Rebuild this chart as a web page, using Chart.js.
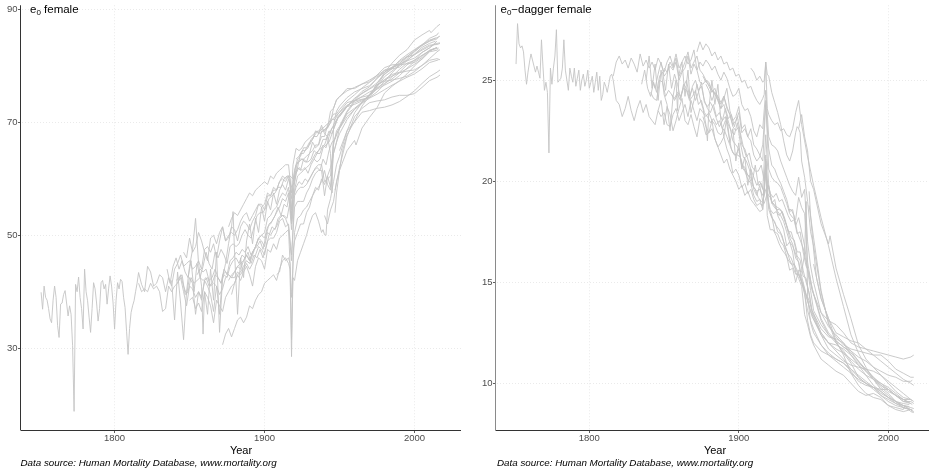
<!DOCTYPE html>
<html>
<head>
<meta charset="utf-8">
<script src="https://cdn.jsdelivr.net/npm/chart.js@4.4.1/dist/chart.umd.min.js"></script>
<style>
  html, body { margin: 0; padding: 0; background: #fff; overflow: hidden; width: 929px; height: 474px; }
  body { position: relative; font-family: "Liberation Sans", Arial, sans-serif; }
  canvas { position: absolute; top: 0; }
  .t { position: absolute; white-space: nowrap; line-height: 1; color: #000; }
  .ttl { font-size: 11.5px; top: 4px; }
  .ttl sub { font-size: 8px; vertical-align: -2px; line-height: 0; }
  .xt { font-size: 11px; top: 444.7px; transform: translateX(-50%); }
  .cap { font-size: 9.8px; font-style: italic; top: 458.2px; }
  #warn { position:absolute; left:300px; top:200px; color:red; font-size:14px; }
</style>
</head>
<body>
<canvas id="c1" width="465" height="474" style="left:0px"></canvas>
<canvas id="c2" width="470" height="474" style="left:465px"></canvas>
<div class="t ttl" style="left:30px">e<sub>0</sub> female</div>
<div class="t ttl" style="left:500.5px">e<sub>0</sub>−dagger female</div>
<div class="t xt" style="left:241px">Year</div>
<div class="t xt" style="left:715px">Year</div>
<div class="t cap" style="left:20.5px">Data source: Human Mortality Database, www.mortality.org</div>
<div class="t cap" style="left:497px">Data source: Human Mortality Database, www.mortality.org</div>
<div id="warn"></div>
<script>
// year grids (x positions) built from segments [start, end, step]
function yrs(...segs){ const o=[]; for(const [a,b,s] of segs){ for(let y=a;y<=b;y+=s) o.push(y); } return o; }

// tick labels
const xTicks = [1800, 1900, 2000];
const e0Ticks = [30, 50, 70, 90];
const edTicks = [10, 15, 20, 25];

// ---------- Sweden ----------
const SWE_year = yrs([1751,1815,1],[1816,1900,2],[1902,1916,2],[1917,1919,1],[1920,1950,2],[1955,2015,5],[2017,2017,1]);
const SWE_e0 = [39.9,36.9,41.0,39.0,38.5,37.0,35.2,34.5,38.5,41.0, 39.0,34.0,31.9,37.8,38.0,39.5,40.2,38.0,35.7,37.5,
 36.0,30.5,18.8,41.3,40.0,42.6,39.0,37.0,33.4,44.0, 40.0,38.4,35.5,32.8,37.0,41.6,40.5,38.0,34.8,37.0,
 41.6,42.0,40.5,41.3,37.8,40.5,42.8,41.0,38.0,33.4, 38.5,41.6,40.5,42.2,41.8,39.0,37.2,33.0,28.9,33.5,
 36.3,37.5,38.4,40.0,41.5,
 43.4,41.3,40.0,44.5,43.5,41.0,41.5,43.0,42.5,40.0, 42.5,41.0,44.0,45.0,46.5,44.5,45.0,45.5,44.0,44.5,
 45.5,44.0,47.5,48.0,47.0,48.5,46.0,49.0,51.5,49.0, 50.0,50.5,50.0,51.0,52.5,53.5,54.0,52.5,53.5,54.5,
 55.5,55.5,54.5,
 57.0,57.0,58.0,58.0,59.5,60.0,59.5,60.5, 60.0,54.5,59.5,
 60.5,63.0,63.5,63.5,63.0,64.5,65.0,66.0,66.0,67.5,67.5,69.5,70.5,71.5,71.5,72.3,
 73.8,74.9,76.1,77.1,78.1,78.9,79.7,80.4,81.6,82.0,82.8,83.5,84.0, 84.1];
const SWE_ed = [25.8,27.8,26.8,26.6,26.7,26.4,25.5,24.8,25.4,25.9, 26.3,26.0,25.7,25.4,25.7,25.4,25.1,27.0,25.7,24.5,
 24.9,24.4,21.4,25.6,24.8,25.6,26.2,27.5,24.9,25.0, 25.1,25.6,27.0,25.5,25.0,24.5,25.6,25.2,24.9,25.6,
 24.7,25.1,25.5,24.5,25.0,25.3,24.7,25.0,25.5,24.6, 24.9,25.2,24.4,24.9,25.4,24.5,25.2,24.0,24.3,24.9,
 24.7,24.4,24.8,25.2,25.3,
 25.0,24.0,23.8,23.2,23.6,24.2,23.5,23.0,23.6,24.0, 23.4,23.8,23.2,23.0,22.8,23.5,23.2,23.4,22.8,22.7,
 23.3,23.6,23.0,23.4,23.8,23.2,24.0,23.5,23.0,23.6, 23.4,23.2,23.4,23.0,22.8,22.4,22.3,22.6,22.2,21.8,
 21.4,21.3,21.6,
 20.8,20.7,20.3,20.2,19.7,19.5,19.6,19.3, 19.5,21.3,19.8,
 19.6,19.0,18.8,18.7,18.6,18.2,17.8,17.2,16.9,16.2,16.0,15.0,14.4,13.6,13.1,12.7,
 11.9,11.4,11.2,11.0,10.7,10.4,10.1,9.8,9.5,9.3,9.0,8.9,8.8, 8.75];

// ---------- France ----------
const FRA_year = yrs([1816,1916,2],[1918,1918,1],[1920,1950,2],[1955,2015,5],[2017,2017,1]);
const FRA_e0 = [41.5,40.0,40.5,40.0,41.5,40.5,41.0,40.0,36.5,37.0, 41.0,40.0,41.0,41.5,43.0,41.0,39.5,42.5,41.5,36.0,
 40.0,39.0,42.0,42.5,41.0,41.5,41.0,36.0,43.0,43.5, 43.0,42.5,42.5,43.5,43.0,44.0,45.0,44.0,45.0,46.5,
 48.0,47.5,46.5,49.0,49.5,49.5,50.5,52.5,53.0,51.5, 52.0,
 46.5,
 55.0,56.0,56.0,56.0,57.5,58.5,60.0,61.0,61.5,61.5,57.0,60.5,58.5,66.0,68.5,69.3,
 72.0,73.8,75.2,76.0,77.0,78.5,79.5,81.0,82.0,82.9,83.8,84.6,85.0, 85.3];
const FRA_ed = [25.2,25.9,26.2,25.8,26.0,25.6,26.1,25.8,25.4,26.3, 25.7,26.0,25.6,25.9,25.5,26.1,25.8,25.4,25.9,26.2,
 25.7,26.3,25.6,25.9,26.2,25.8,26.0,26.5,25.5,25.9, 25.7,26.0,25.8,25.5,25.7,25.3,25.0,25.4,25.1,24.6,
 24.2,24.3,24.6,23.8,23.5,23.6,23.2,22.5,22.2,22.8, 22.6,
 24.5,
 22.2,21.8,21.7,21.5,21.0,20.6,20.2,19.8,19.5,19.3,20.2,19.2,19.6,17.0,15.8,15.0,
 13.5,12.8,12.4,12.0,11.6,11.1,10.7,10.3,10.0,9.7,9.4,9.1,9.1, 9.0];

// ---------- Denmark ----------
const DNK_year = yrs([1835,1949,2],[1955,2015,5],[2017,2017,1]);
const DNK_e0 = [44.0,41.5,44.5,46.0,44.0,45.5,43.5,42.5,45.5,40.0, 45.0,42.5,44.5,47.0,45.0,44.0,47.0,46.0,47.5,46.5,
 45.0,48.0,48.5,48.0,48.5,50.0,51.0,50.0,49.5,51.5, 53.5,54.0,54.0,55.0,56.5,57.0,57.5,58.5,58.5,60.0,
 60.5,60.5,60.0,62.5,63.0,63.5,63.0,63.0,63.5,65.0, 64.5,65.5,67.0,67.0,68.5,68.0,69.5,71.0,
 72.8,74.3,75.1,75.9,76.7,77.3,77.5,77.8,78.2,79.0,80.1,81.3,82.5, 82.9];
const DNK_ed = [24.8,25.5,24.6,24.2,24.9,24.4,25.2,25.4,24.5,25.8, 24.6,25.3,24.8,24.1,24.7,25.0,24.2,24.6,24.0,24.4,
 24.9,23.9,23.7,23.9,23.6,23.1,22.7,23.0,23.2,22.4, 21.6,21.3,21.3,21.2,20.7,20.4,20.2,19.8,19.6,19.2,
 19.0,18.9,19.4,19.2,18.8,18.6,18.6,18.5,18.1,17.5, 17.5,17.0,16.3,16.1,15.3,15.2,14.4,13.5,
 12.4,11.7,11.4,11.1,10.9,10.8,10.7,10.6,10.4,10.1,9.8,9.5,9.2, 9.1];

// ---------- Iceland ----------
const ISL_year = yrs([1838,1858,2],[1859,1859,1],[1860,1878,2],[1879,1879,1],[1880,1950,2],[1955,2015,5],[2017,2017,1]);
const ISL_e0 = [42.0,35.0,43.5,38.0,31.5,40.0,44.5,47.5,53.0,45.0,41.0, 32.5,
 40.0,36.0,44.0,38.5,47.0,32.8,42.5,45.0,48.5,51.5, 54.2,
 47.0,36.0,46.0,42.5,49.0,52.0,48.5,53.0,50.5,55.0, 52.5,56.0,54.5,57.5,55.5,58.0,59.0,58.0,60.0,58.5,
 59.5,62.0,61.5,63.5,64.0,64.5,66.5,65.5,66.0,68.5, 68.5,69.0,72.0,72.5,74.0,74.5,
 76.0,76.0,76.8,77.2,78.4,79.7,80.2,80.3,81.0,82.0,83.0,83.7,83.8, 84.0];
const ISL_ed = [25.0,26.2,24.6,25.8,24.0,25.5,24.3,23.8,22.5,24.2,25.0, 23.5,
 25.3,25.9,24.2,25.5,23.4,24.0,24.8,24.1,23.6,22.8, 22.0,
 23.6,25.0,23.8,24.8,23.0,22.2,23.2,21.9,22.6,21.0, 21.9,20.6,21.2,19.8,20.6,19.6,19.3,19.8,19.0,19.6,
 19.8,18.9,19.1,18.3,18.0,17.6,16.8,17.0,16.5,15.5, 15.2,14.8,13.4,12.9,12.3,11.9,
 11.2,10.9,10.6,10.4,10.0,9.6,9.4,9.5,9.3,8.9,8.7,8.6,8.7, 8.6];

// ---------- England & Wales ----------
const GBR_year = yrs([1841,1917,2],[1918,1918,1],[1919,1949,2],[1955,2015,5],[2016,2016,1]);
const GBR_e0 = [42.0,42.5,43.0,39.5,40.0,42.5,41.5,42.0,42.5,42.0, 42.5,41.0,41.5,43.0,42.5,41.5,44.0,43.0,45.5,46.0,
 47.0,46.5,47.5,47.0,48.0,46.5,47.5,48.0,49.0,47.5, 50.0,52.0,52.5,53.5,55.0,53.5,55.5,55.0,58.0,
 52.5,
 57.5,61.0,62.0,61.5,62.0,61.0,62.5,63.5,64.5,64.5,66.0,65.5,67.5,69.0,69.5,71.0,
 73.0,73.8,74.6,75.4,76.1,76.9,77.7,78.8,79.5,80.3,81.2,82.5,82.8, 83.0];
const GBR_ed = [24.4,24.1,24.0,25.0,24.9,24.2,24.5,24.3,24.1,24.4, 24.2,24.6,24.5,24.0,24.2,24.5,23.8,24.0,23.4,23.2,
 22.9,23.1,22.8,23.0,22.6,23.0,22.8,22.5,22.3,22.9, 21.9,21.2,21.0,20.6,20.0,20.8,19.8,19.9,19.4,
 21.0,
 19.3,18.6,18.4,18.5,18.3,18.5,18.0,17.6,17.2,17.1,16.5,16.5,15.6,15.0,14.5,13.6,
 12.5,12.0,11.7,11.5,11.2,10.9,10.6,10.2,10.0,9.8,9.5,9.2,9.2, 9.15];

// ---------- Belgium ----------
const BEL_year = yrs([1842,1916,2],[1918,1918,1],[1920,1950,2],[1955,2015,5]);
const BEL_e0 = [41.5,42.5,40.0,37.5,41.0,40.5,39.0,40.0,38.5,42.0, 41.0,39.5,36.5,41.0,39.5,40.5,42.5,43.0,42.5,43.5,
 44.5,44.0,45.5,46.5,45.5,47.0,48.0,49.5,49.0,48.0, 50.5,50.0,51.0,51.5,53.0,53.5,53.0,51.5,
 45.5,
 57.0,58.0,58.5,58.5,59.0,60.0,61.0,62.0,62.5,62.5,59.5,60.0,60.5,66.5,68.0,69.0,
 71.8,73.5,74.0,74.4,75.4,76.8,78.1,79.4,80.5,81.0,81.9,82.7,83.3];
const BEL_ed = [25.0,24.6,25.3,25.9,25.2,25.4,25.7,25.5,25.9,25.0, 25.4,25.6,26.2,25.3,25.8,25.5,24.9,24.8,25.0,24.7,
 24.4,24.6,24.1,23.8,24.2,23.6,23.3,22.8,23.0,23.4, 22.4,22.6,22.2,22.0,21.3,21.0,21.2,21.8,
 24.0,
 20.6,20.2,20.0,19.9,19.7,19.3,18.9,18.4,18.2,18.1,19.2,18.7,18.4,16.0,15.1,14.4,
 13.1,12.4,12.1,11.8,11.5,11.1,10.6,10.2,9.9,9.7,9.4,9.2,9.0];

// ---------- Norway ----------
const NOR_year = yrs([1846,1916,2],[1918,1918,1],[1920,1950,2],[1955,2010,5],[2014,2014,1]);
const NOR_e0 = [47.0,46.0,49.5,47.0,48.0,50.5,49.0,47.0,45.5,49.5, 50.0,48.5,50.5,51.5,49.0,49.5,51.5,51.0,49.0,51.5,
 52.5,52.0,51.0,52.5,53.5,55.5,55.0,55.5,57.5,57.0, 58.5,58.0,59.5,60.5,60.0,60.5,
 56.5,
 61.5,63.5,64.0,65.5,65.5,66.5,67.0,68.0,68.5,69.0,68.5,69.0,70.0,72.5,74.0,74.6,
 75.6,76.2,76.8,77.5,78.3,79.2,79.5,79.8,80.9,81.4,82.4,83.2, 84.0];
const NOR_ed = [23.5,24.0,22.8,23.7,23.3,22.5,23.0,23.6,24.1,23.0, 22.8,23.3,22.7,22.2,23.1,22.9,22.3,22.4,23.0,22.1,
 21.7,21.9,22.2,21.6,21.2,20.4,20.6,20.3,19.7,19.9, 19.4,19.6,19.1,18.8,18.9,18.8,
 20.4,
 18.6,18.2,18.0,17.5,17.4,17.0,16.6,16.1,15.8,15.4,15.4,15.0,14.5,13.1,12.4,12.0,
 11.6,11.4,11.1,10.8,10.5,10.2,10.0,9.8,9.4,9.2,9.0,8.8, 8.7];

// ---------- Netherlands ----------
const NLD_year = yrs([1850,1916,2],[1918,1918,1],[1920,1944,2],[1945,1946,1],[1948,1950,2],[1955,2015,5],[2016,2016,1]);
const NLD_e0 = [38.5,39.0,37.0,38.0,36.5,40.0,39.0,37.5,34.5,38.5, 37.5,36.5,39.0,40.0,41.0,41.5,43.0,43.5,44.5,45.5,
 45.0,46.5,48.0,49.5,50.0,50.5,53.0,53.5,54.5,55.0, 56.5,57.5,57.0,58.5,
 52.0,
 60.5,62.0,64.5,64.5,65.5,66.0,67.0,68.5,68.0,69.5,68.0,67.5,64.5,
 57.5,69.5,72.0,72.9,
 74.4,75.4,76.0,76.5,77.8,79.3,79.7,80.2,80.4,80.6,81.5,82.8,83.1, 83.2];
const NLD_ed = [25.6,25.4,25.9,25.6,26.1,25.2,25.5,25.9,26.4,25.6, 25.9,26.2,25.5,25.3,25.0,24.9,24.5,24.3,24.0,23.6,
 23.8,23.2,22.7,22.0,21.8,21.6,20.7,20.5,20.1,19.9, 19.3,19.0,19.1,18.6,
 21.0,
 18.8,18.3,17.5,17.4,17.0,16.8,16.3,15.6,15.7,15.0,15.6,15.5,16.4,
 19.0,14.3,13.0,12.5,
 11.9,11.5,11.2,11.0,10.6,10.1,9.9,9.8,9.7,9.7,9.4,9.1,9.0, 8.95];

// ---------- Scotland ----------
const SCO_year = yrs([1855,1917,2],[1918,1918,1],[1919,1949,2],[1955,2015,5],[2016,2016,1]);
const SCO_e0 = [43.0,44.0,43.5,44.0,42.0,42.5,44.0,42.5,41.5,43.0, 42.5,44.5,45.5,46.0,45.0,46.5,46.0,47.0,45.0,46.5,
 46.0,47.5,46.0,48.0,50.0,51.5,51.0,53.0,53.5,53.5, 53.0,56.0,
 53.5,
 56.5,58.5,59.5,59.0,60.0,59.5,60.5,61.5,62.0,61.5,63.5,62.5,65.0,66.5,67.0,68.5,
 71.0,72.3,73.4,74.3,75.0,75.8,76.6,77.3,78.0,78.6,79.5,80.6,81.0, 81.1];
const SCO_ed = [24.3,24.0,24.3,24.0,24.8,24.6,24.1,24.7,25.0,24.5, 24.7,24.0,23.6,23.4,23.8,23.2,23.4,23.0,23.6,23.1,
 23.3,22.7,23.2,22.4,21.7,21.2,21.4,20.7,20.5,20.5, 20.8,20.0,
 21.1,
 20.0,19.4,19.2,19.4,19.0,19.1,18.7,18.3,18.0,18.1,17.4,17.5,16.5,15.8,15.5,14.7,
 13.2,12.5,12.1,11.8,11.6,11.3,11.1,10.8,10.6,10.4,10.3,10.1,10.1, 10.15];

// ---------- Italy ----------
const ITA_year = yrs([1872,1916,2],[1917,1919,1],[1920,1950,2],[1955,2010,5],[2014,2014,1]);
const ITA_e0 = [30.6,32.5,33.5,32.0,33.5,35.0,35.5,34.5,35.5,37.5, 37.0,38.5,39.5,40.0,41.5,42.0,42.5,43.0,42.0,44.0,
 45.5,46.0,45.0,
 44.0,28.5,47.0,
 49.0,50.5,52.0,52.0,54.0,55.0,57.0,58.0,58.5,59.5,61.5,59.0,58.0,64.5,66.5,68.0,
 70.5,72.3,73.5,74.8,76.0,77.2,78.8,80.1,81.3,82.5,83.6,84.4, 85.0];
const ITA_ed = [26.4,26.9,26.5,26.8,26.6,26.2,26.4,26.0,26.2,25.8, 25.9,25.5,25.6,25.2,25.3,24.9,25.0,24.6,24.7,24.3,
 24.0,23.8,24.1,
 24.3,25.9,23.6,
 23.3,23.0,22.8,22.9,22.5,22.6,22.3,22.2,22.6,23.4,24.0,22.8,22.0,21.2,20.5,19.8,
 18.2,16.8,15.2,13.8,12.4,11.5,10.8,10.2,9.7,9.4,9.1,8.9, 8.85];

// ---------- Switzerland ----------
const CHE_year = yrs([1876,1916,2],[1918,1918,1],[1920,1950,2],[1955,2015,5],[2016,2016,1]);
const CHE_e0 = [42.0,43.0,43.5,44.5,45.0,45.5,46.5,45.5,47.0,48.0, 49.5,50.0,49.5,51.5,52.0,53.0,54.0,55.0,56.5,56.0,
 57.5,
 51.0,
 58.0,60.5,61.0,61.5,62.0,62.5,63.5,64.5,65.0,65.5,66.0,67.5,68.5,69.5,70.5,71.0,
 72.8,74.1,75.5,76.3,77.8,78.9,79.8,80.8,81.7,82.6,83.7,84.4,84.8, 85.2];
const CHE_ed = [25.2,24.9,24.8,24.5,24.4,24.2,23.9,24.2,23.7,23.3, 22.7,22.5,22.7,21.8,21.6,21.1,20.6,20.2,19.8,20.0,
 19.6,
 22.3,
 19.8,19.0,18.8,18.5,18.3,18.0,17.5,17.0,16.8,16.4,16.0,15.3,14.7,14.1,13.6,13.2,
 12.5,12.0,11.6,11.2,10.7,10.3,10.0,9.7,9.4,9.1,8.9,8.8,8.7, 8.7];

// ---------- Finland ----------
const FIN_year = yrs([1878,1916,2],[1918,1918,1],[1920,1950,2],[1955,2015,5]);
const FIN_e0 = [39.5,41.5,43.0,42.0,43.5,44.5,43.0,41.0,44.5,46.0, 45.5,44.0,47.5,47.0,48.5,47.5,49.5,50.0,50.5,51.0,
 39.0,
 50.5,53.0,53.5,54.5,55.0,56.0,57.0,58.5,58.0,60.0,59.0,60.5,62.0,64.5,66.5,69.0,
 71.5,72.5,73.6,75.0,76.5,77.6,78.5,78.9,80.2,81.0,82.4,83.2,84.4];
const FIN_ed = [24.8,24.5,24.0,24.4,24.0,23.6,24.1,24.6,23.5,23.0, 23.2,23.7,22.6,22.8,22.2,22.6,21.8,21.6,21.3,21.0,
 23.8,
 21.6,20.8,20.6,20.2,19.9,19.5,19.1,18.5,18.6,17.8,18.2,17.5,16.8,15.6,14.6,13.6,
 12.9,12.4,12.0,11.6,11.1,10.7,10.4,10.2,9.8,9.5,9.1,8.9,8.7];

// ---------- Spain ----------
const ESP_year = yrs([1908,1916,2],[1917,1919,1],[1920,1938,2],[1939,1942,1],[1944,1950,2],[1955,2015,5],[2016,2016,1]);
const ESP_e0 = [43.0,43.5,46.5,45.5,46.0, 45.0,31.5,42.5,
 42.0,45.5,47.0,48.5,50.0,52.0,53.5,54.0,52.5,50.5,
 51.0,50.1,50.0,54.5, 56.5,59.5,62.5,64.0,
 68.5,71.7,73.5,74.9,76.5,78.6,79.6,80.5,81.6,82.8,83.7,84.9,85.5, 85.9];
const ESP_ed = [25.6,25.4,25.0,25.2,24.9, 25.0,25.9,25.3,
 25.2,24.4,23.9,23.4,22.8,22.0,21.3,21.0,21.5,22.4,
 22.7,22.6,22.4,21.0, 20.2,19.0,17.5,16.8,
 14.5,13.0,12.0,11.5,11.0,10.3,10.0,9.8,9.6,9.3,9.1,8.8,8.7, 8.6];

// ---------- New Zealand ----------
const NZL_year = yrs([1876,1916,2],[1918,1919,1],[1921,1949,2],[1955,2010,5],[2013,2013,1]);
const NZL_e0 = [51.5,53.0,54.0,53.5,54.5,55.5,56.5,57.5,57.0,58.0, 58.5,59.0,59.5,59.0,60.5,60.0,61.0,61.5,62.0,62.5,
 62.5,
 57.5,62.5,
 65.4,65.0,65.5,66.5,67.0,67.5,68.0,68.5,68.0,68.5,69.0,69.5,70.5,71.0,71.5,
 73.5,73.9,74.5,74.8,75.9,76.6,77.3,78.3,79.6,80.8,81.8,82.7, 83.1];
const NZL_ed = [23.2,22.7,22.4,22.6,22.1,21.7,21.3,20.9,21.1,20.6, 20.3,20.0,19.6,19.8,19.3,19.5,19.1,18.9,18.7,18.5,
 18.6,
 20.8,18.3,
 17.6,17.6,17.3,16.9,16.6,16.4,16.1,15.9,15.9,15.6,15.3,14.9,14.3,13.8,13.3,
 12.4,12.0,11.9,11.7,11.4,11.0,10.7,10.3,9.9,9.6,9.4,9.2, 9.1];

// ---------- USA ----------
const USA_year = yrs([1933,1949,2],[1955,2015,5],[2017,2017,1]);
const USA_e0 = [63.5,63.0,63.5,65.5,66.0,66.5,68.0,69.5,70.8,
 72.8,73.2,73.8,74.8,76.6,77.5,78.2,78.8,79.1,79.3,80.1,81.0,81.3, 81.1];
const USA_ed = [18.6,18.6,18.3,17.5,17.1,16.7,16.0,15.3,14.6,
 13.5,13.1,12.9,12.5,12.0,11.8,11.7,11.6,11.5,11.4,11.3,11.2,11.3, 11.4];

// ---------- Japan ----------
const JPN_year = yrs([1947,1948,1],[1950,1952,2],[1955,2010,5],[2011,2011,1],[2015,2017,2]);
const JPN_e0 = [54.0,57.5,61.5,65.0,67.8,70.2,72.9,74.7,76.9,78.8,80.5,81.9,82.9,84.6,85.5,86.3,85.9,87.0,87.4];
const JPN_ed = [19.5,18.3,16.6,15.2,14.2,13.2,12.1,11.4,10.5,9.9,9.5,9.3,9.2,8.9,8.8,8.7,8.9,8.6,8.55];

// ---------- Portugal ----------
const PRT_year = yrs([1940,1950,2],[1955,1960,5],[1961,1961,1],[1965,2015,5]);
const PRT_e0 = [53.5,52.0,54.5,56.0,59.5,61.5,65.0,66.8,66.0,69.0,70.9,72.6,75.2,76.4,77.4,78.6,80.0,81.3,82.6,83.3];
const PRT_ed = [22.6,23.3,22.2,21.5,20.0,19.6,17.9,16.9,17.3,15.7,14.4,13.2,11.9,11.2,10.8,10.4,10.0,9.6,9.3,9.2];

// ---------- Australia ----------
const AUS_year = yrs([1921,1949,2],[1955,2010,5],[2014,2014,1]);
const AUS_e0 = [63.5,64.0,65.0,65.0,65.5,67.0,67.5,67.5,68.5,69.0,69.5,70.0,70.5,70.5,71.5,
 73.0,73.8,74.1,74.4,76.3,78.1,79.1,80.2,81.0,82.1,83.3,84.0, 84.4];
const AUS_ed = [18.4,18.1,17.8,17.6,17.3,16.7,16.4,16.2,15.8,15.5,15.2,14.8,14.4,14.1,13.6,
 12.7,12.3,12.2,12.0,11.4,10.9,10.4,9.9,9.6,9.3,9.1,9.0, 8.95];

// ---------- Bulgaria ----------
const BGR_year = yrs([1947,1950,3],[1955,2015,5],[2017,2017,1]);
const BGR_e0 = [58.0,62.0,67.5,71.0,72.5,73.5,73.8,74.0,74.5,74.8,74.8,75.1,76.2,77.4,78.0,78.4];
const BGR_ed = [18.8,17.2,14.6,12.9,12.3,11.9,11.7,11.6,11.5,11.4,11.4,11.1,10.7,10.5,10.3,10.3];

// ---------- Hungary ----------
const HUN_year = yrs([1950,2015,5],[2017,2017,1]);
const HUN_e0 = [65.0,68.5,70.1,71.8,72.1,72.5,72.7,73.1,73.7,74.6,75.6,76.9,78.1,78.9,79.3];
const HUN_ed = [15.9,14.2,13.2,12.5,12.3,12.1,12.0,11.7,11.4,11.1,10.8,10.5,10.2,10.0,9.9];

const series = [
  ['SWE', SWE_year, SWE_e0, SWE_ed], ['FRA', FRA_year, FRA_e0, FRA_ed], ['DNK', DNK_year, DNK_e0, DNK_ed],
  ['ISL', ISL_year, ISL_e0, ISL_ed], ['GBR', GBR_year, GBR_e0, GBR_ed], ['BEL', BEL_year, BEL_e0, BEL_ed],
  ['NOR', NOR_year, NOR_e0, NOR_ed], ['NLD', NLD_year, NLD_e0, NLD_ed], ['SCO', SCO_year, SCO_e0, SCO_ed],
  ['ITA', ITA_year, ITA_e0, ITA_ed], ['CHE', CHE_year, CHE_e0, CHE_ed], ['FIN', FIN_year, FIN_e0, FIN_ed],
  ['ESP', ESP_year, ESP_e0, ESP_ed], ['NZL', NZL_year, NZL_e0, NZL_ed], ['USA', USA_year, USA_e0, USA_ed],
  ['JPN', JPN_year, JPN_e0, JPN_ed], ['PRT', PRT_year, PRT_e0, PRT_ed], ['AUS', AUS_year, AUS_e0, AUS_ed],
  ['BGR', BGR_year, BGR_e0, BGR_ed], ['HUN', HUN_year, HUN_e0, HUN_ed]
];

const warn = [];
series.forEach(([n, y, a, b]) => {
  if (y.length !== a.length || y.length !== b.length) warn.push(n + ' ' + y.length + '/' + a.length + '/' + b.length);
});
document.getElementById('warn').textContent = warn.join('  ');

const LINE = 'rgb(196,196,196)';
function makeSets(idx) {
  return series.map(s => ({
    label: s[0],
    data: s[1].map((yr, i) => ({ x: yr, y: s[idx][i] })).filter(p => p.y !== undefined),
    borderColor: LINE, borderWidth: 0.9, pointRadius: 0, tension: 0, fill: false
  }));
}

const fontTick = { family: '"Liberation Sans", Arial, sans-serif', size: 9.5, lineHeight: 1 };
function axes(xmin, xmax, ymin, ymax, yt, yw) {
  return {
    x: {
      type: 'linear', min: xmin, max: xmax,
      afterBuildTicks: s => { s.ticks = xTicks.map(v => ({ value: v })); },
      afterFit: s => { s.height = 34; },
      ticks: { callback: v => String(v), color: '#4d4d4d', font: fontTick, padding: 1, maxRotation: 0, autoSkip: false },
      grid: { color: '#e4e4e4', lineWidth: 0.8, drawTicks: true, tickLength: 3, tickColor: '#333', tickWidth: 0.8 },
      border: { display: true, color: 'rgba(0,0,0,0)', width: 1, dash: [1, 2] }
    },
    y: {
      type: 'linear', min: ymin, max: ymax,
      afterBuildTicks: s => { s.ticks = yt.map(v => ({ value: v })); },
      afterFit: s => { s.width = yw; },
      ticks: { callback: v => String(v), color: '#4d4d4d', font: fontTick, padding: 0.5 },
      grid: { color: '#e4e4e4', lineWidth: 0.8, drawTicks: true, tickLength: 3, tickColor: '#333', tickWidth: 0.8 },
      border: { display: true, color: 'rgba(0,0,0,0)', width: 1, dash: [1, 2] }
    }
  };
}

// solid axis lines (border.dash only dots the grid lines)
const solidAxes = {
  id: 'solidAxes',
  afterDraw(chart, args, opts) {
    const { ctx, chartArea: a } = chart;
    ctx.save();
    ctx.setLineDash([]);
    ctx.lineWidth = 1;
    ctx.strokeStyle = opts.yColor;
    ctx.beginPath(); ctx.moveTo(a.left - 0.5, a.top); ctx.lineTo(a.left - 0.5, a.bottom); ctx.stroke();
    ctx.strokeStyle = '#333';
    ctx.beginPath(); ctx.moveTo(a.left - 0.5, a.bottom + 0.5); ctx.lineTo(a.right, a.bottom + 0.5); ctx.stroke();
    ctx.restore();
  }
};

function make(id, idx, xmin, xmax, ymin, ymax, yt, yw, padR, yColor) {
  return new Chart(document.getElementById(id), {
    type: 'line',
    data: { datasets: makeSets(idx) },
    options: {
      responsive: false, animation: false, parsing: true, normalized: true,
      layout: { padding: { left: 0, right: padR, top: 5, bottom: 10 } },
      plugins: { legend: { display: false }, tooltip: { enabled: false }, title: { display: false }, solidAxes: { yColor } },
      scales: axes(xmin, xmax, ymin, ymax, yt, yw)
    },
    plugins: [solidAxes]
  });
}

make('c1', 2, 1737.6, 2031.0, 15.5, 90.76, e0Ticks, 21, 4, '#333');
make('c2', 3, 1737.6, 2031.2, 7.69, 28.71, edTicks, 31, 0, '#8a8a8a');
</script>
</body>
</html>
